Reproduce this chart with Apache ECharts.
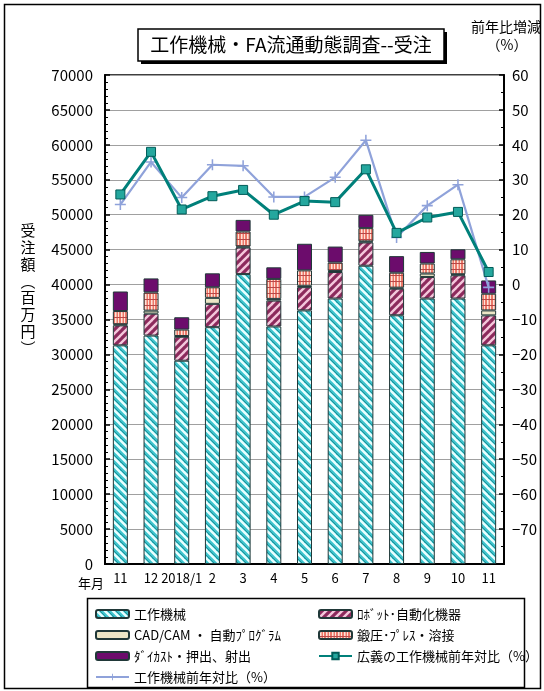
<!DOCTYPE html>
<html>
<head>
<meta charset="utf-8">
<script src="https://cdn.jsdelivr.net/npm/echarts@6/dist/echarts.min.js"></script>
<style>
html, body { margin: 0; padding: 0; background: #fff; }
#chart { width: 544px; height: 691px; }
</style>
</head>
<body>
<div id="chart"></div>
<script>
// Survey months (2017/11 .. 2018/11) and the labels printed under the axis
const periods = ['2017/11', '2017/12', '2018/1', '2018/2', '2018/3', '2018/4', '2018/5',
                 '2018/6', '2018/7', '2018/8', '2018/9', '2018/10', '2018/11'];
const tickLabels = ['11', '12', '2018/1', '2', '3', '4', '5', '6', '7', '8', '9', '10', '11'];

// Orders received by product group (million yen)
const machineTools = [31300, 32700, 29100, 33900, 41500, 34000, 36300, 38000, 42700, 35600, 38000, 38000, 31300];
const robots       = [2860, 3140, 3430, 3340, 3800, 3710, 3330, 3800, 3330, 3810, 3090, 3330, 4290];
const cadCam       = [150, 430, 100, 860, 150, 240, 200, 150, 150, 150, 490, 150, 710];
const pressWeld    = [1900, 2610, 930, 1510, 2140, 2860, 2200, 1200, 1900, 2140, 1430, 2140, 2390];
const dieCast      = [2800, 2000, 1760, 2000, 1670, 1660, 3810, 2290, 1900, 2370, 1660, 1430, 1900];

// Year-on-year change (%)
const broadYoY   = [25.8, 38.0, 21.5, 25.3, 27.1, 20.0, 23.9, 23.6, 33.0, 14.8, 19.2, 20.8, 3.6];
const machineYoY = [22.9, 35.1, 24.9, 34.3, 34.0, 25.1, 25.1, 30.7, 41.3, 13.5, 22.6, 28.6, -0.8];

// Axis ticks
const leftTicks  = { min: 0, max: 70000, step: 5000 };
const rightTicks = { min: -80, max: 60, step: 10 };

const FONT = '"Noto Sans CJK JP", "Noto Sans", sans-serif';

// Tiled fill with diagonal stripes
function stripes(size, base, layers, dir) {
  const c = document.createElement('canvas');
  c.width = c.height = size;
  const g = c.getContext('2d');
  g.fillStyle = base;
  g.fillRect(0, 0, size, size);
  layers.forEach(function (l) {
    g.strokeStyle = l.color;
    g.lineWidth = l.width;
    [-size, 0, size].forEach(function (o) {
      const s = o + l.shift;
      g.beginPath();
      if (dir === 'down') { g.moveTo(s - 1, -1); g.lineTo(s + size + 1, size + 1); }
      else { g.moveTo(s - 1, size + 1); g.lineTo(s + size + 1, -1); }
      g.stroke();
    });
  });
  return { image: c, repeat: 'repeat' };
}

// Brick-like tile for the press / welding group
function brick() {
  const c = document.createElement('canvas');
  c.width = 6; c.height = 6;
  const g = c.getContext('2d');
  g.fillStyle = '#ec7868';
  g.fillRect(0, 0, 6, 6);
  g.fillStyle = '#fde2d8';
  g.fillRect(1, 0, 1.5, 6);
  g.fillRect(4, 0, 1, 6);
  g.fillStyle = '#b84848';
  g.fillRect(0, 5, 6, 1);
  return { image: c, repeat: 'repeat' };
}

const fillMachine = stripes(8, '#3cc3cc', [
  { color: '#eaffff', width: 2.4, shift: 0 },
  { color: '#1f8f98', width: 1, shift: 3 }
], 'down');
const fillRobot = stripes(8, '#8c2a5c', [
  { color: '#f4c8dc', width: 2.4, shift: 0 }
], 'up');
const fillCad = '#ece6c6';
const fillPress = brick();
const fillDie = '#6c0c6c';

const barBorder = { borderColor: '#203838', borderWidth: 1 };

function barSeries(name, data, fill) {
  return {
    name: name,
    type: 'bar',
    stack: 'orders',
    barWidth: 15,
    data: data,
    itemStyle: Object.assign({ color: fill }, barBorder),
    z: 2
  };
}

const plusPath = 'path://M4.3,0 H5.7 V4.3 H10 V5.7 H5.7 V10 H4.3 V5.7 H0 V4.3 H4.3 Z';

const chart = echarts.init(document.getElementById('chart'), null, { renderer: 'canvas' });

const legendText = { fontFamily: FONT, fontSize: 13, color: '#000', lineHeight: 14 };

const option = {
  backgroundColor: '#fff',
  animation: false,
  textStyle: { fontFamily: FONT, color: '#000' },
  grid: {
    left: 105, right: 40, top: 75, bottom: 127,
    show: true, borderColor: '#000', borderWidth: 1.5
  },
  legend: [
    {
      left: 95, top: 607, padding: 0, orient: 'vertical',
      itemWidth: 33, itemHeight: 8, itemGap: 7, selectedMode: false,
      textStyle: legendText,
      data: ['工作機械', 'CAD/CAM ・ 自動ﾌﾟﾛｸﾞﾗﾑ', 'ﾀﾞｲｶｽﾄ・押出、射出', '工作機械前年対比（%）']
    },
    {
      left: 318, top: 607, padding: 0, orient: 'vertical',
      itemWidth: 33, itemHeight: 8, itemGap: 7, selectedMode: false,
      textStyle: legendText,
      data: ['ﾛﾎﾞｯﾄ･自動化機器', '鍛圧･ﾌﾟﾚｽ・溶接', '広義の工作機械前年対比（%）']
    }
  ],
  xAxis: {
    type: 'category',
    data: periods,
    boundaryGap: true,
    axisLine: { lineStyle: { color: '#000', width: 2 } },
    axisTick: { inside: true, length: 5, lineStyle: { color: '#000', width: 1.5 } },
    axisLabel: {
      interval: 0, fontSize: 13, color: '#000', margin: 8,
      formatter: function (v, i) { return tickLabels[i]; }
    },
    splitLine: { show: false }
  },
  yAxis: [
    {
      type: 'value',
      min: leftTicks.min, max: leftTicks.max, interval: leftTicks.step,
      axisLine: { show: true, lineStyle: { color: '#000', width: 2 } },
      axisTick: { show: true, inside: true, length: 5, lineStyle: { color: '#000', width: 1.5 } },
      minorTick: { show: true, splitNumber: 5, length: 3, lineStyle: { color: '#000', width: 1 } },
      axisLabel: {
        fontSize: 15, color: '#000', margin: 12,
        formatter: function (v) { return String(v); }
      },
      splitLine: { show: true, lineStyle: { color: '#a0a0a0', width: 1 } }
    },
    {
      type: 'value',
      position: 'right',
      min: rightTicks.min, max: rightTicks.max, interval: rightTicks.step,
      axisLine: { show: true, lineStyle: { color: '#000', width: 2 } },
      axisTick: { show: true, inside: true, length: 5, lineStyle: { color: '#000', width: 1.5 } },
      minorTick: { show: true, splitNumber: 2, length: 3, lineStyle: { color: '#000', width: 1 } },
      axisLabel: {
        fontSize: 15, color: '#000', margin: 8,
        formatter: function (v) {
          if (v === rightTicks.min) return '';
          return String(v).replace('-', '\u2212');
        }
      },
      splitLine: { show: false }
    }
  ],
  series: [
    barSeries('工作機械', machineTools, fillMachine),
    barSeries('ﾛﾎﾞｯﾄ･自動化機器', robots, fillRobot),
    barSeries('CAD/CAM ・ 自動ﾌﾟﾛｸﾞﾗﾑ', cadCam, fillCad),
    barSeries('鍛圧･ﾌﾟﾚｽ・溶接', pressWeld, fillPress),
    barSeries('ﾀﾞｲｶｽﾄ・押出、射出', dieCast, fillDie),
    {
      name: '工作機械前年対比（%）',
      type: 'line',
      yAxisIndex: 1,
      data: machineYoY,
      symbol: plusPath,
      symbolSize: 11,
      lineStyle: { color: '#8fa2da', width: 2.2 },
      itemStyle: { color: '#8fa2da' },
      z: 4
    },
    {
      name: '広義の工作機械前年対比（%）',
      type: 'line',
      yAxisIndex: 1,
      data: broadYoY,
      symbol: 'rect',
      symbolSize: 9,
      lineStyle: { color: '#00807a', width: 3 },
      itemStyle: { color: '#24a79e', borderColor: '#005c58', borderWidth: 1 },
      z: 5
    }
  ],
  graphic: [
    // outer frame
    { type: 'rect', silent: true, z: -10,
      shape: { x: 4.5, y: 4.5, width: 536, height: 684 },
      style: { fill: 'none', stroke: '#000', lineWidth: 1.5 } },
    // title box with drop shadow
    { type: 'rect', silent: true,
      shape: { x: 141, y: 32, width: 306, height: 32 },
      style: { fill: '#000' } },
    { type: 'rect', silent: true,
      shape: { x: 138, y: 29, width: 306, height: 32 },
      style: { fill: '#fff', stroke: '#000', lineWidth: 1.5 } },
    { type: 'text', silent: true, x: 291, y: 45,
      style: { text: '工作機械・FA流通動態調査--受注', font: '19px ' + FONT,
               fill: '#000', align: 'center', verticalAlign: 'middle' } },
    // right axis caption
    { type: 'text', silent: true, x: 506, y: 27,
      style: { text: '前年比増減', font: '14px ' + FONT, fill: '#000',
               align: 'center', verticalAlign: 'middle' } },
    { type: 'text', silent: true, x: 507, y: 45,
      style: { text: '（%）', font: '14px ' + FONT, fill: '#000',
               align: 'center', verticalAlign: 'middle' } },
    // left axis caption, stacked vertically
    { type: 'text', silent: true, x: 28, y: 222,
      style: { text: '受\n注\n額\n︵\n百\n万\n円\n︶', font: '15px ' + FONT, lineHeight: 16.8,
               fill: '#000', align: 'center', verticalAlign: 'top' } },
    // category axis caption
    { type: 'text', silent: true, x: 91, y: 583,
      style: { text: '年月', font: '13px ' + FONT, fill: '#000',
               align: 'center', verticalAlign: 'middle' } },
    // legend frame
    { type: 'rect', silent: true,
      shape: { x: 87.5, y: 598.5, width: 437, height: 89 },
      style: { fill: 'none', stroke: '#000', lineWidth: 1.5 } }
  ]
};

chart.setOption(option);
</script>
</body>
</html>
